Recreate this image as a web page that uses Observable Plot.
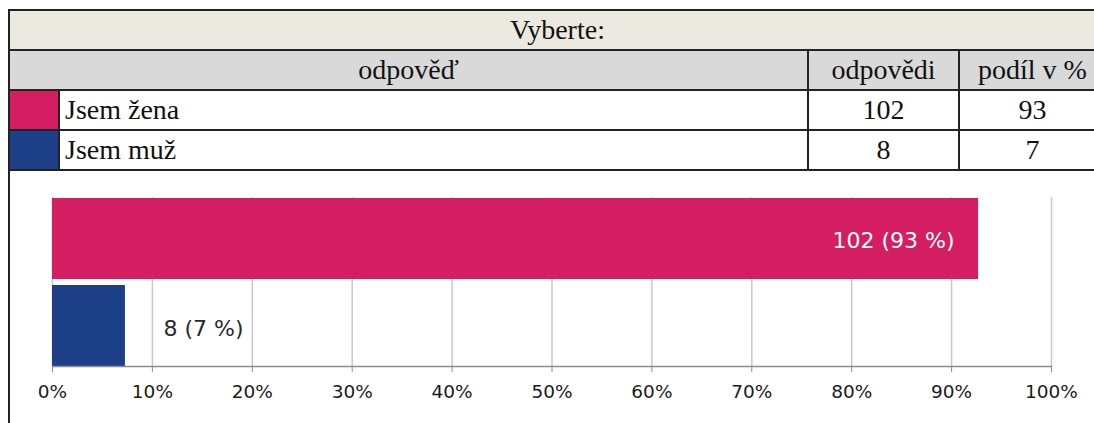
<!DOCTYPE html>
<html>
<head>
<meta charset="utf-8">
<script src="https://cdn.jsdelivr.net/npm/d3@7"></script>
<script src="https://cdn.jsdelivr.net/npm/@observablehq/plot@0.6"></script>
<style>
  html, body { margin: 0; padding: 0; overflow: hidden; background: #fff; width: 1094px; height: 423px; }
  #wrap { position: absolute; left: 8px; top: 9px; width: 1097px; height: 430px; border-left: 2px solid #222; }
  table { border-collapse: collapse; width: 1097px; font-family: "Liberation Serif", "Times New Roman", serif; font-size: 28px; color: #111; table-layout: fixed; }
  td { border: 2px solid #222; height: 38px; padding: 0; line-height: 38px; box-sizing: border-box; white-space: nowrap; }
  td.title { background: #ECEAE0; text-align: center; border-left: none; }
  td.head { background: #D9D9D9; text-align: center; }
  td.lab { text-align: left; padding-left: 5px; }
  td.num { text-align: center; }
  td.first { border-left: none; }
  #chart { position: absolute; left: 0; top: 162px; }
</style>
</head>
<body>
<div id="wrap">
  <table id="tbl"></table>
  <div id="chart"></div>
</div>
<script>
const title = "Vyberte:";
const headers = ["odpověď", "odpovědi", "podíl v %"];
const answers = ["Jsem žena", "Jsem muž"];
const counts = [102, 8];
const sharesRounded = [93, 7];
const barShares = [92.7, 7.3];
const colors = ["#D41E61", "#1D3F88"];
const xTicks = [0, 10, 20, 30, 40, 50, 60, 70, 80, 90, 100];

// table
const tbl = document.getElementById("tbl");
tbl.innerHTML =
  `<colgroup><col style="width:49px"><col style="width:749px"><col style="width:151px"><col></colgroup>` +
  `<tr><td class="title" colspan="4">${title}</td></tr>` +
  `<tr><td class="head first" colspan="2">${headers[0]}</td><td class="head">${headers[1]}</td><td class="head">${headers[2]}</td></tr>` +
  answers.map((a, i) =>
    `<tr><td class="first" style="background:${colors[i]}"></td><td class="lab">${a}</td><td class="num">${counts[i]}</td><td class="num">${sharesRounded[i]}</td></tr>`
  ).join("");

const data = answers.map((a, i) => ({
  answer: a,
  count: counts[i],
  share: barShares[i],
  rounded: sharesRounded[i],
  color: colors[i],
  label: `${counts[i]} (${sharesRounded[i]} %)`
}));

const chart = Plot.plot({
  width: 1084,
  height: 252,
  marginLeft: 42,
  marginRight: 43,
  marginTop: 26,
  marginBottom: 57,
  style: { fontFamily: "'DejaVu Sans', sans-serif", background: "transparent", overflow: "visible" },
  x: { domain: [0, 100], label: null },
  y: { domain: answers, paddingInner: 0.07, paddingOuter: 0, axis: null, label: null },
  marks: [
    Plot.ruleX(xTicks, { stroke: "#C8C8C8", strokeWidth: 1.5 }),
    Plot.barX(data, { y: "answer", x: "share", fill: "color" }),
    Plot.frame({ anchor: "bottom", stroke: "#8C8C8C", strokeWidth: 1.5 }),
    Plot.axisX({ ticks: xTicks, tickFormat: d => d + "%", tickSize: 6, tickPadding: 12, stroke: "#8C8C8C", fill: "#1a1a1a", fontSize: 18.5, label: null }),
    Plot.text(data.filter(d => d.share > 50), { y: "answer", x: "share", text: "label", textAnchor: "end", dx: -24, dy: 2, fill: "white", fontSize: 22 }),
    Plot.text(data.filter(d => d.share <= 50), { y: "answer", x: "share", text: "label", textAnchor: "start", dx: 38, dy: 3, fill: "#2a2a2a", fontSize: 22 })
  ]
});
document.getElementById("chart").appendChild(chart);
</script>
</body>
</html>
